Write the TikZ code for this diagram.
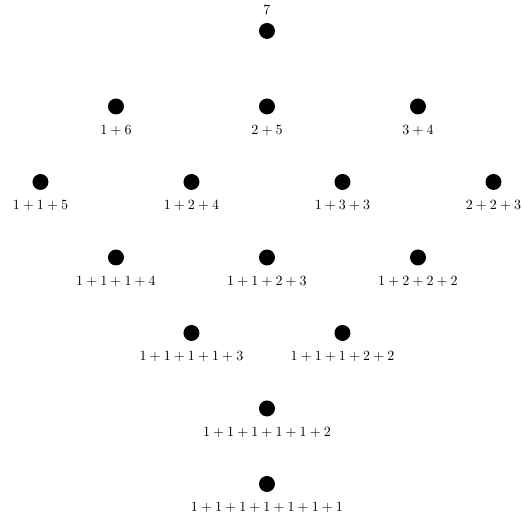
\documentclass[tikz,border=0pt]{standalone}
\usepackage{amsmath}
\usepackage{tikz}

\begin{document}
\begin{tikzpicture}[x=1.89cm, y=1.89cm,
    part/.style={circle, fill=black, inner sep=0pt, minimum size=0.4cm},
    every label/.style={label distance=4pt}]
  \useasboundingbox (-3.536,-6.45) rectangle (3.404,0.41);
  \node[part, label={[label distance=2pt]above:$7$}] (p7) at (0, 0) {};
  \node[part, label={below:$1+6$}] (p16) at (-2, -1) {};
  \node[part, label={below:$2+5$}] (p25) at (0, -1) {};
  \node[part, label={below:$3+4$}] (p34) at (2, -1) {};
  \node[part, label={below:$1+1+5$}] (p115) at (-3, -2) {};
  \node[part, label={below:$1+2+4$}] (p124) at (-1, -2) {};
  \node[part, label={below:$1+3+3$}] (p133) at (1, -2) {};
  \node[part, label={below:$2+2+3$}] (p223) at (3, -2) {};
  \node[part, label={below:$1+1+1+4$}] (p1114) at (-2, -3) {};
  \node[part, label={below:$1+1+2+3$}] (p1123) at (0, -3) {};
  \node[part, label={below:$1+2+2+2$}] (p1222) at (2, -3) {};
  \node[part, label={below:$1+1+1+1+3$}] (p11113) at (-1, -4) {};
  \node[part, label={below:$1+1+1+2+2$}] (p11122) at (1, -4) {};
  \node[part, label={below:$1+1+1+1+1+2$}] (p111112) at (0, -5) {};
  \node[part, label={below:$1+1+1+1+1+1+1$}] (p1111111) at (0, -6) {};
\end{tikzpicture}
\end{document}
